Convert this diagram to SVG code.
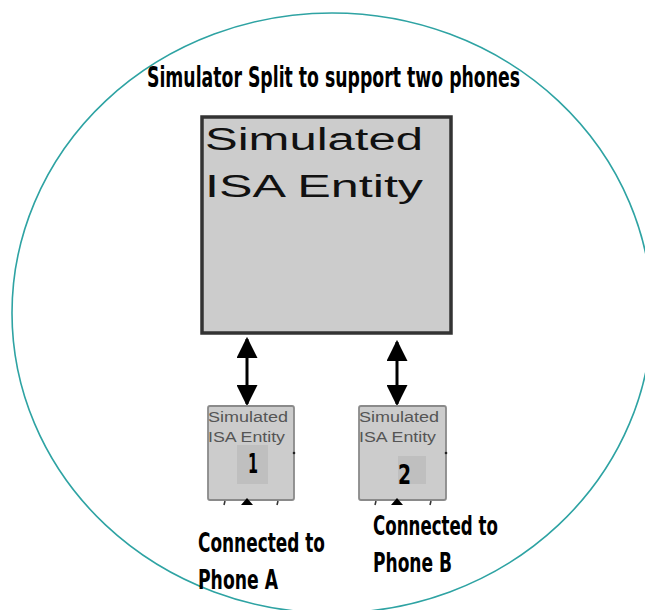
<svg xmlns="http://www.w3.org/2000/svg" width="645" height="610" viewBox="0 0 645 610">
  <style>
    .ring { fill: none; stroke: #2ea3a3; stroke-width: 1.6; }
    .label { font-family: "DejaVu Sans Condensed", "DejaVu Sans", sans-serif; font-weight: bold; fill: #000; }
    .big { fill: #cccccc; stroke: #333333; stroke-width: 3.5; }
    .small { fill: #cccccc; stroke: #8a8a8a; stroke-width: 1.8; }
    .plate { fill: #bfbfbf; }
    .sans { font-family: "Liberation Sans", Arial, sans-serif; }
    .shaft { stroke: #000; stroke-width: 3; }
    .tick { stroke: #333; stroke-width: 1.5; }
  </style>
  <defs>
    <marker id="head" viewBox="0 0 10 10" refX="9" refY="5" markerWidth="7" markerHeight="7" markerUnits="strokeWidth" orient="auto-start-reverse">
      <path d="M0,0 L10,5 L0,10 z" fill="#000"/>
    </marker>
  </defs>

  <rect width="645" height="610" fill="#ffffff"/>

  <!-- boundary -->
  <ellipse class="ring" cx="332" cy="313" rx="320" ry="300"/>

  <text class="label" x="147" y="87" font-size="28" textLength="373" lengthAdjust="spacingAndGlyphs">Simulator Split to support two phones</text>

  <!-- main entity -->
  <g id="main-entity">
    <rect class="big" x="202" y="117" width="249" height="216"/>
    <text class="sans" x="205" y="150" font-size="31" fill="#111" textLength="218" lengthAdjust="spacingAndGlyphs">Simulated</text>
    <text class="sans" x="205" y="197" font-size="31" fill="#111" textLength="218" lengthAdjust="spacingAndGlyphs">ISA Entity</text>
  </g>

  <!-- connectors -->
  <g id="connectors">
    <line class="shaft" x1="247" y1="339" x2="247" y2="404" marker-start="url(#head)" marker-end="url(#head)"/>
    <line class="shaft" x1="397" y1="342" x2="397" y2="404" marker-start="url(#head)" marker-end="url(#head)"/>
  </g>

  <!-- entity 1 -->
  <g id="entity-1">
    <rect class="small" x="208" y="406" width="86" height="94" rx="2"/>
    <text class="sans" x="208" y="422" font-size="14" fill="#555" textLength="80" lengthAdjust="spacingAndGlyphs">Simulated</text>
    <text class="sans" x="208" y="442" font-size="14" fill="#555" textLength="77" lengthAdjust="spacingAndGlyphs">ISA Entity</text>
    <rect class="plate" x="237" y="445" width="31" height="39"/>
    <text class="label" x="248" y="473" font-size="26" textLength="10" lengthAdjust="spacingAndGlyphs">1</text>
    <circle cx="294" cy="453" r="1.3" fill="#222"/>
    <path d="M241,505 L247,498 L253,505 z" fill="#000"/>
    <line class="tick" x1="225" y1="501" x2="224" y2="505"/>
    <line class="tick" x1="278" y1="501" x2="277" y2="505"/>
  </g>

  <!-- entity 2 -->
  <g id="entity-2">
    <rect class="small" x="359" y="406" width="87" height="94" rx="2"/>
    <text class="sans" x="359" y="422" font-size="14" fill="#555" textLength="80" lengthAdjust="spacingAndGlyphs">Simulated</text>
    <text class="sans" x="359" y="442" font-size="14" fill="#555" textLength="77" lengthAdjust="spacingAndGlyphs">ISA Entity</text>
    <rect class="plate" x="398" y="456" width="28" height="28"/>
    <text class="label" x="398" y="484" font-size="26" textLength="13" lengthAdjust="spacingAndGlyphs">2</text>
    <circle cx="446" cy="453" r="1.3" fill="#222"/>
    <path d="M391,505 L397,498 L403,505 z" fill="#000"/>
    <line class="tick" x1="376" y1="501" x2="375" y2="505"/>
    <line class="tick" x1="431" y1="501" x2="430" y2="505"/>
  </g>

  <!-- phone labels -->
  <g id="phone-a">
    <text class="label" x="198" y="552" font-size="26" textLength="127" lengthAdjust="spacingAndGlyphs">Connected to</text>
    <text class="label" x="198" y="589" font-size="26" textLength="80" lengthAdjust="spacingAndGlyphs">Phone A</text>
  </g>
  <g id="phone-b">
    <text class="label" x="373" y="535" font-size="26" textLength="125" lengthAdjust="spacingAndGlyphs">Connected to</text>
    <text class="label" x="373" y="572" font-size="26" textLength="79" lengthAdjust="spacingAndGlyphs">Phone B</text>
  </g>
</svg>
